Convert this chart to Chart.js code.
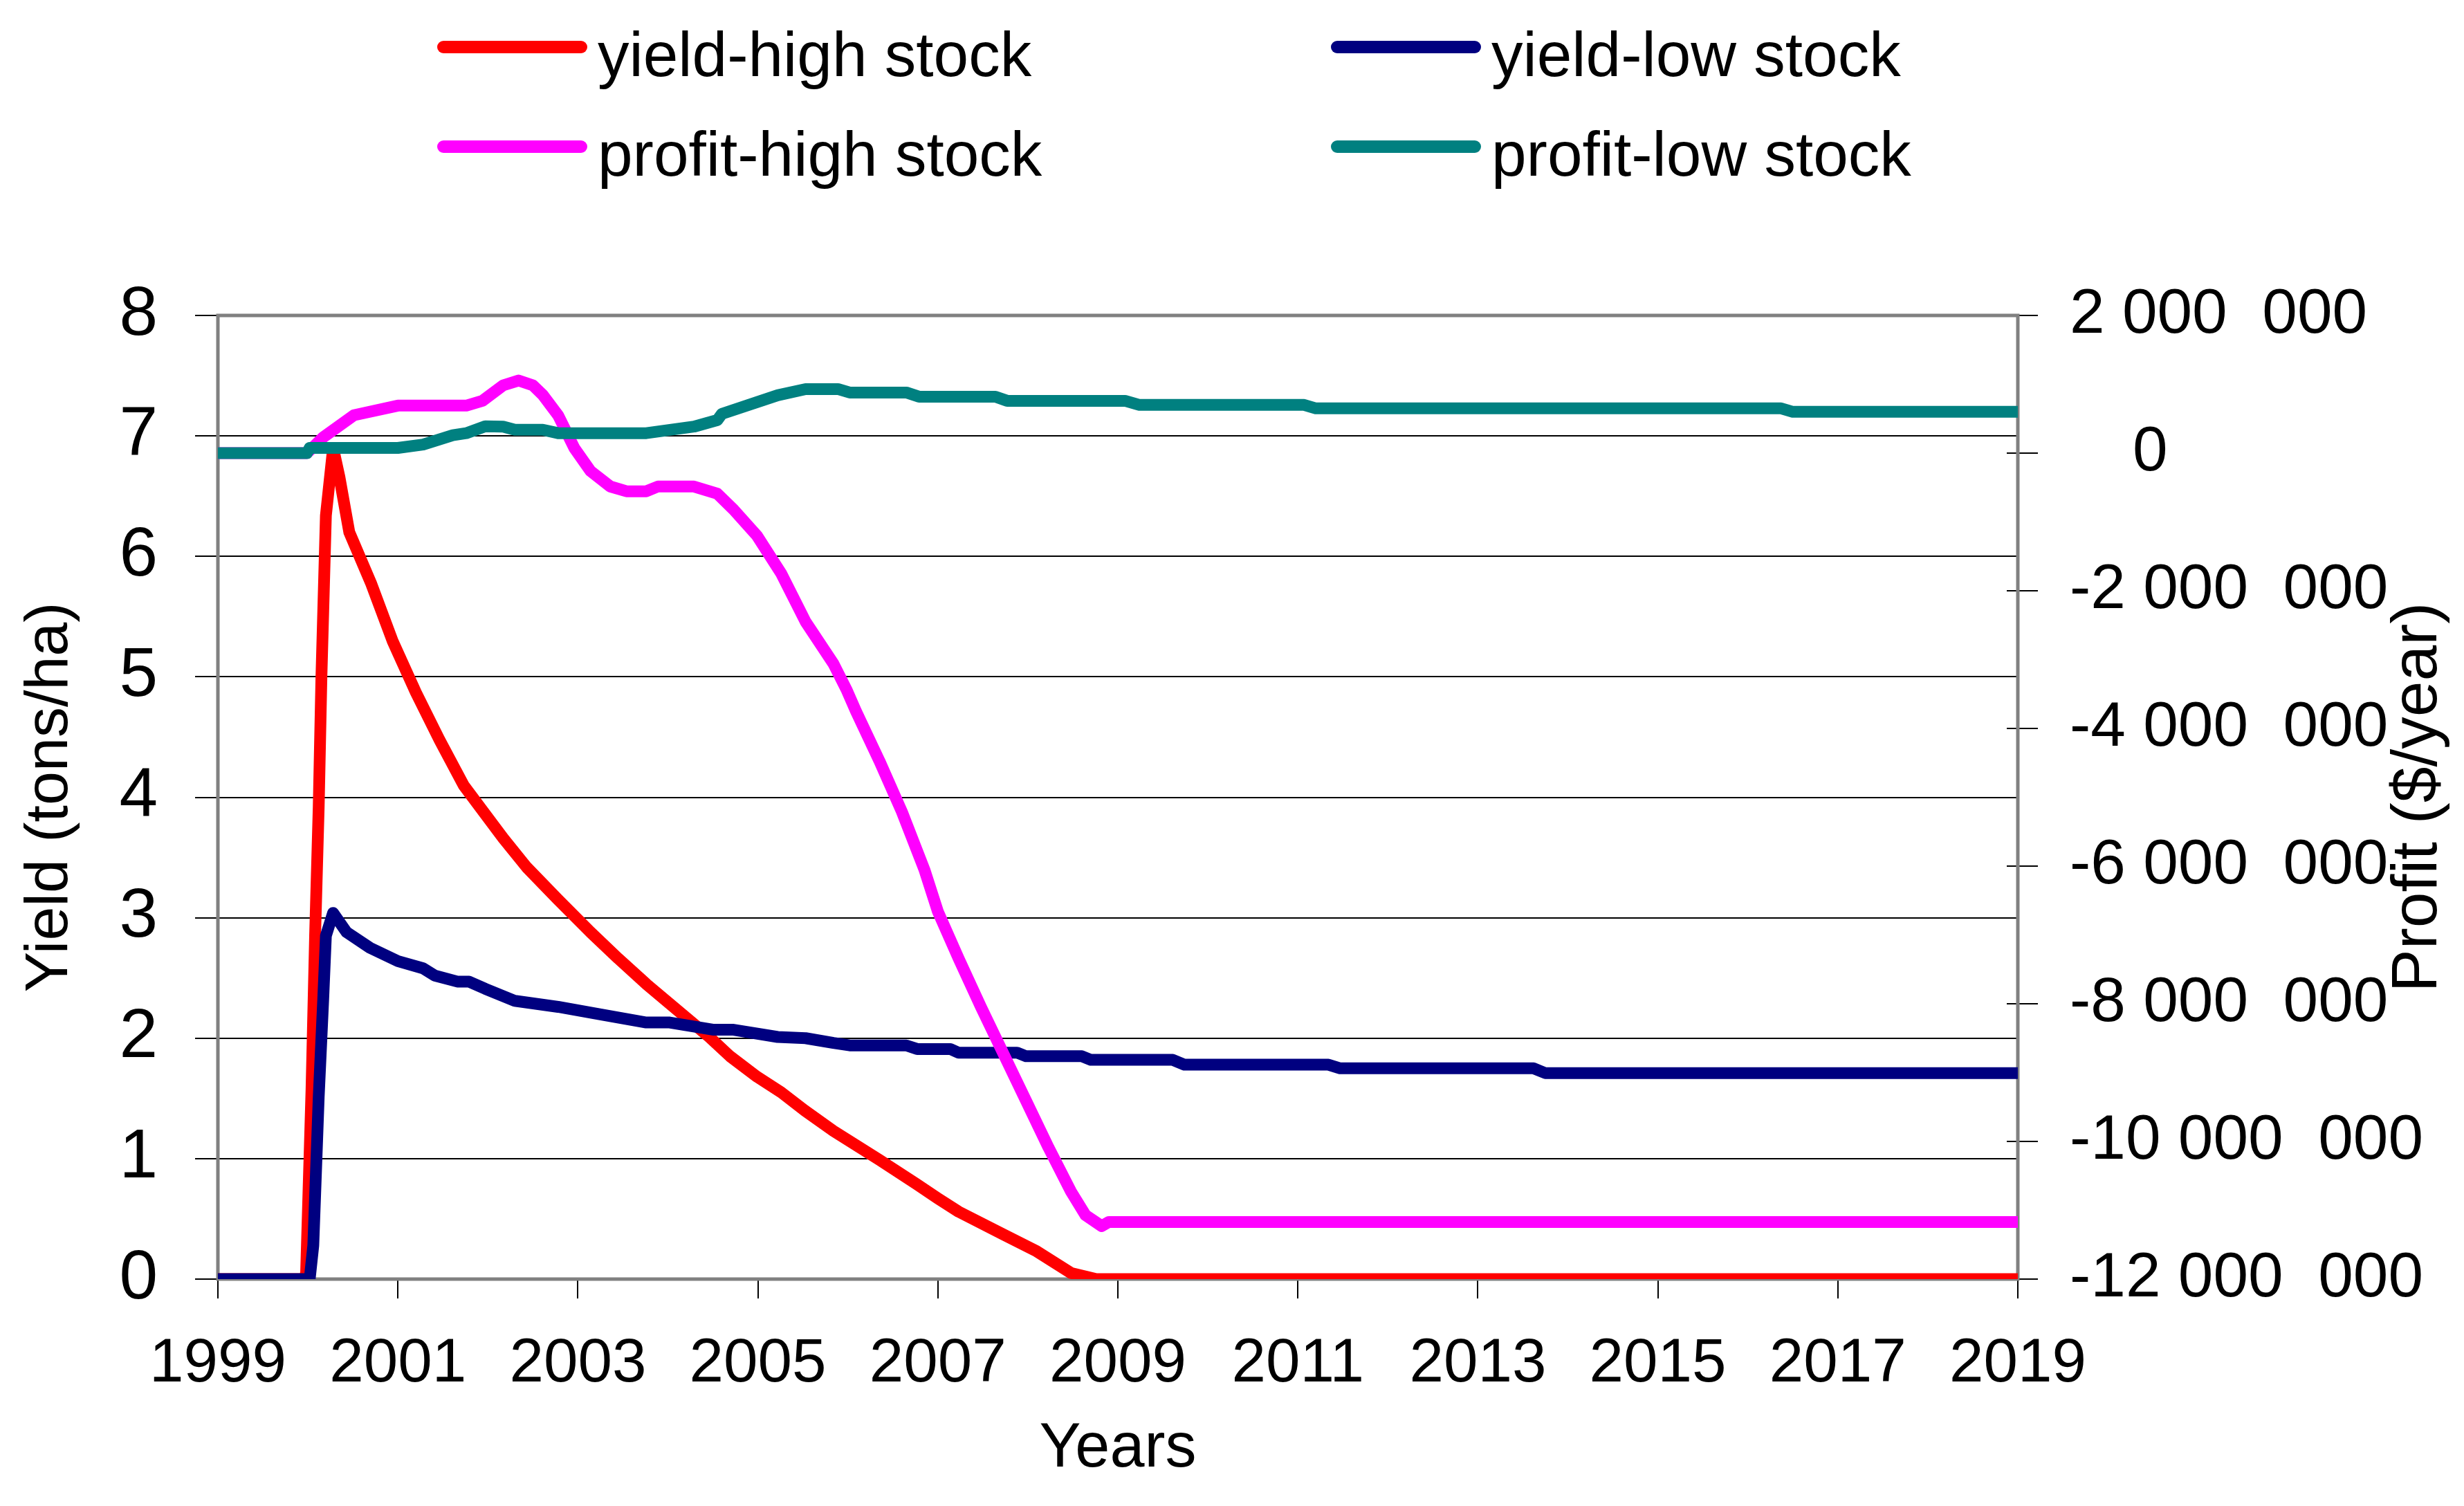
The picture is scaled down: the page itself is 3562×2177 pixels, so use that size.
<!DOCTYPE html>
<html>
<head>
<meta charset="utf-8">
<script src="https://cdn.jsdelivr.net/npm/chart.js@4.4.1/dist/chart.umd.min.js"></script>
<style>
  html, body { margin: 0; padding: 0; background: #fff; }
  canvas { display: block; }
</style>
</head>
<body>
<canvas id="chart-yield" width="3562" height="2177"></canvas>
<script>
// values
const yearTicks = [1999, 2001, 2003, 2005, 2007, 2009, 2011, 2013, 2015, 2017, 2019]
const profitTickValues = [-12000000, -10000000, -8000000, -6000000, -4000000, -2000000, 0, 2000000]
const profitTickLabels = ['-12 000  000', '-10 000  000', '-8 000  000', '-6 000  000', '-4 000  000', '-2 000  000', '\u2002\u20020', '2 000  000']

const yieldHighYears = [1999, 1999.96, 1999.98, 2000.04, 2000.08, 2000.12, 2000.15, 2000.2, 2000.28, 2000.35, 2000.46, 2000.7, 2000.94, 2001.2, 2001.46, 2001.73, 2001.97, 2002.17, 2002.43, 2002.78, 2003.14, 2003.45, 2003.76, 2004.11, 2004.46, 2004.69, 2004.99, 2005.26, 2005.52, 2005.84, 2006.35, 2006.76, 2007.0, 2007.23, 2007.73, 2008.1, 2008.48, 2008.76, 2019]
const yieldHigh = [0, 0, 0.05, 1.57, 2.85, 3.92, 4.99, 6.34, 6.9, 6.66, 6.2, 5.78, 5.3, 4.87, 4.48, 4.1, 3.86, 3.66, 3.42, 3.15, 2.88, 2.66, 2.45, 2.23, 2.01, 1.85, 1.68, 1.55, 1.4, 1.23, 0.99, 0.79, 0.67, 0.56, 0.37, 0.23, 0.05, 0, 0]

const yieldLowYears = [1999, 1999.96, 2000.02, 2000.06, 2000.12, 2000.17, 2000.2, 2000.28, 2000.43, 2000.69, 2001.0, 2001.28, 2001.41, 2001.66, 2001.79, 2001.97, 2002.3, 2002.78, 2003.23, 2003.76, 2004.02, 2004.51, 2004.73, 2005.22, 2005.53, 2005.84, 2006.02, 2006.65, 2006.77, 2007.14, 2007.23, 2007.88, 2007.98, 2008.6, 2008.7, 2009.61, 2009.74, 2011.34, 2011.47, 2013.62, 2013.75, 2019]
const yieldLow = [0, 0, 0, 0.28, 1.51, 2.32, 2.85, 3.04, 2.88, 2.75, 2.64, 2.58, 2.52, 2.47, 2.47, 2.41, 2.31, 2.26, 2.2, 2.13, 2.13, 2.07, 2.07, 2.01, 2.0, 1.96, 1.94, 1.94, 1.91, 1.91, 1.88, 1.88, 1.85, 1.85, 1.82, 1.82, 1.78, 1.78, 1.75, 1.75, 1.71, 1.71]

// profit in millions of $/year
const profitHighYears = [1999, 1999.99, 2000.17, 2000.51, 2001.0, 2001.76, 2001.94, 2002.17, 2002.34, 2002.5, 2002.61, 2002.78, 2002.96, 2003.14, 2003.36, 2003.54, 2003.76, 2003.89, 2004.29, 2004.55, 2004.73, 2004.99, 2005.26, 2005.53, 2005.84, 2005.99, 2006.09, 2006.35, 2006.6, 2006.85, 2007.0, 2007.23, 2007.48, 2007.73, 2007.98, 2008.23, 2008.48, 2008.64, 2008.82, 2008.9, 2019]
const profitHigh = [0, 0, 0.23, 0.55, 0.69, 0.69, 0.76, 0.985, 1.055, 0.985, 0.845, 0.55, 0.075, -0.26, -0.485, -0.555, -0.555, -0.485, -0.485, -0.59, -0.82, -1.2, -1.75, -2.45, -3.06, -3.45, -3.75, -4.47, -5.21, -6.05, -6.66, -7.34, -8.05, -8.73, -9.41, -10.09, -10.73, -11.07, -11.23, -11.17, -11.17]

const profitLowYears = [1999, 1999.99, 2000.02, 2001.0, 2001.28, 2001.61, 2001.76, 2001.97, 2002.17, 2002.3, 2002.61, 2002.78, 2003.76, 2004.29, 2004.55, 2004.6, 2005.22, 2005.53, 2005.89, 2006.02, 2006.65, 2006.79, 2007.64, 2007.77, 2009.08, 2009.24, 2011.07, 2011.2, 2016.37, 2016.5, 2019]
const profitLow = [0, 0, 0.075, 0.075, 0.125, 0.26, 0.29, 0.39, 0.385, 0.34, 0.34, 0.29, 0.29, 0.385, 0.48, 0.57, 0.84, 0.93, 0.93, 0.88, 0.88, 0.82, 0.82, 0.76, 0.76, 0.7, 0.7, 0.65, 0.65, 0.6, 0.6]

const FONT = "'Liberation Sans', Arial, sans-serif"

function points(xs, ys, scale) {
  return xs.map((x, i) => ({ x: x, y: ys[i] * scale }))
}

// grey plot frame and the inner half of the profit axis tick marks
const plotFrame = {
  id: 'plotFrame',
  beforeDatasetsDraw(chart) {
    const { ctx, chartArea: a } = chart
    const y1 = chart.scales.y1
    ctx.save()
    ctx.strokeStyle = '#000'
    ctx.lineWidth = 2
    y1.ticks.forEach(t => {
      const y = y1.getPixelForValue(t.value)
      ctx.beginPath()
      ctx.moveTo(a.right - 16, y)
      ctx.lineTo(a.right, y)
      ctx.stroke()
    })
    ctx.strokeStyle = '#808080'
    ctx.lineWidth = 5
    ctx.strokeRect(a.left, a.top, a.right - a.left, a.bottom - a.top)
    ctx.restore()
  }
}

// right title reads bottom to top, like the left one
const profitTitle = {
  id: 'profitTitle',
  afterDraw(chart) {
    const { ctx, chartArea: a } = chart
    ctx.save()
    ctx.translate(3496, (a.top + a.bottom) / 2)
    ctx.rotate(-Math.PI / 2)
    ctx.font = '93px ' + FONT
    ctx.fillStyle = '#000'
    ctx.textAlign = 'center'
    ctx.textBaseline = 'middle'
    ctx.fillText('Profit ($/year)', 0, 0)
    ctx.restore()
  }
}

// two by two legend above the plot
const gridLegend = {
  id: 'gridLegend',
  afterDraw(chart) {
    const { ctx } = chart
    const cols = [632, 1924]
    const rows = [68, 212]
    ctx.save()
    ctx.font = '91px ' + FONT
    ctx.fillStyle = '#000'
    ctx.textBaseline = 'alphabetic'
    chart.data.datasets.forEach((ds, i) => {
      const x = cols[i % 2]
      const y = rows[Math.floor(i / 2)]
      ctx.strokeStyle = ds.borderColor
      ctx.lineWidth = 18
      ctx.lineCap = 'round'
      ctx.beginPath()
      ctx.moveTo(x + 9, y)
      ctx.lineTo(x + 208, y)
      ctx.stroke()
      ctx.fillText(ds.label, x + 232, y + 42)
    })
    ctx.restore()
  }
}

function line(label, color, data, axis, order) {
  return {
    label: label,
    data: data,
    yAxisID: axis,
    borderColor: color,
    backgroundColor: color,
    borderWidth: 17,
    borderCapStyle: 'round',
    borderJoinStyle: 'round',
    pointRadius: 0,
    tension: 0,
    order: order,
  }
}

new Chart(document.getElementById('chart-yield'), {
  type: 'line',
  data: {
    datasets: [
      line('yield-high stock', '#FF0000', points(yieldHighYears, yieldHigh, 1), 'y', 3),
      line('yield-low stock', '#000080', points(yieldLowYears, yieldLow, 1), 'y', 2),
      line('profit-high stock', '#FF00FF', points(profitHighYears, profitHigh, 1e6), 'y1', 1),
      line('profit-low stock', '#008080', points(profitLowYears, profitLow, 1e6), 'y1', 0),
    ],
  },
  options: {
    responsive: false,
    devicePixelRatio: 1,
    animation: false,
    events: [],
    layout: { padding: { top: 456, left: 0, right: 0, bottom: 0 } },
    plugins: {
      legend: { display: false },
      tooltip: { enabled: false },
    },
    scales: {
      x: {
        type: 'linear',
        min: 1999,
        max: 2019,
        afterBuildTicks: s => { s.ticks = yearTicks.map(v => ({ value: v })) },
        afterFit: s => { s.height = 328 },
        ticks: {
          color: '#000',
          font: { family: FONT, size: 89 },
          padding: 42,
          maxRotation: 0,
          autoSkip: false,
          callback: v => String(v),
        },
        grid: { drawOnChartArea: false, color: '#000', lineWidth: 2, tickLength: 28 },
        border: { display: false },
        title: {
          display: true,
          text: 'Years',
          color: '#000',
          font: { family: FONT, size: 90 },
          padding: { top: 0, bottom: 28 },
        },
      },
      y: {
        position: 'left',
        min: 0,
        max: 8,
        afterFit: s => { s.width = 315 },
        ticks: {
          stepSize: 1,
          color: '#000',
          font: { family: FONT, size: 100 },
          padding: 54,
        },
        grid: { color: '#000', lineWidth: 2, tickLength: 33 },
        border: { display: false },
        title: {
          display: true,
          text: 'Yield (tons/ha)',
          color: '#000',
          font: { family: FONT, size: 88 },
          padding: { top: 20, bottom: 0 },
        },
      },
      y1: {
        position: 'right',
        min: -12000000,
        max: 2000000,
        afterBuildTicks: s => { s.ticks = profitTickValues.map(v => ({ value: v })) },
        afterFit: s => { s.width = 645 },
        ticks: {
          color: '#000',
          font: { family: FONT, size: 91 },
          padding: 46,
          crossAlign: 'near',
          callback: (v, i) => profitTickLabels[i],
        },
        grid: { drawOnChartArea: false, color: '#000', lineWidth: 2, tickLength: 29 },
        border: { display: false },
      },
    },
  },
  plugins: [plotFrame, profitTitle, gridLegend],
})
</script>
</body>
</html>
